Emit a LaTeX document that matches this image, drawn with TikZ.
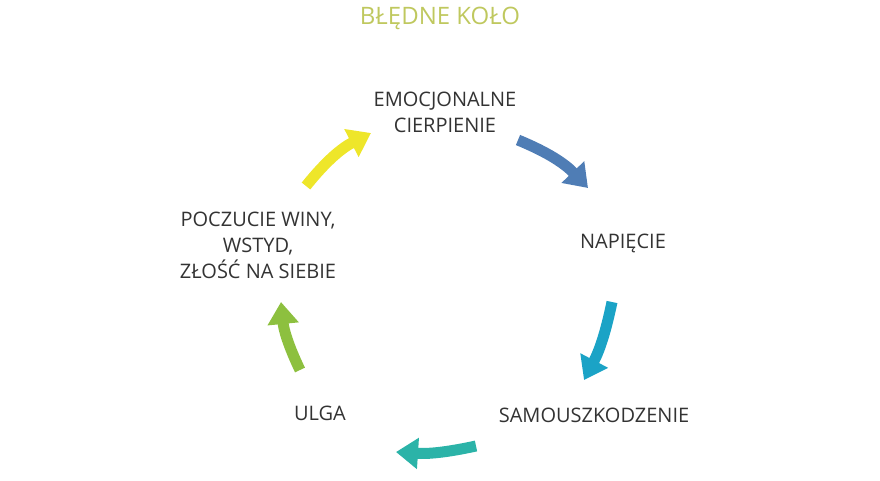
\documentclass[tikz,border=0pt]{standalone}
\usepackage{fontspec}
\setmainfont{Open Sans}
\usetikzlibrary{arrows.meta}
\definecolor{titlegreen}{HTML}{BFC85E}
\definecolor{arrblue}{HTML}{4F7DB5}
\definecolor{arrcyan}{HTML}{1BA3C6}
\definecolor{arrteal}{HTML}{2BB3A8}
\definecolor{arrgreen}{HTML}{8DC03F}
\definecolor{arryellow}{HTML}{EEE62A}
\tikzset{
    every picture/.style = {
        x = 1pt,
        y = -1pt
    },
    stage/.style = {
        align = center,
        font = \fontsize{20}{26}\selectfont,
        text = black!80
    },
    cyclearrow/.style = {
        line width = 11pt,
        -{Triangle[width = 30pt, length = 22pt]}
    }
}

\begin{document}
\begin{tikzpicture}
    \useasboundingbox (0,0) rectangle (880,480);
    \node[font = \fontsize{24}{26}\selectfont, text = titlegreen] (title) at (440,18) {BŁĘDNE KOŁO};

    \node[stage] (pain) at (445,112) {EMOCJONALNE\\CIERPIENIE};
    \node[stage] (tension) at (623,243) {NAPIĘCIE};
    \node[stage] (harm) at (594,415) {SAMOUSZKODZENIE};
    \node[stage] (relief) at (320,413) {ULGA};
    \node[stage] (guilt) at (258,245) {POCZUCIE WINY,\\WSTYD,\\ZŁOŚĆ NA SIEBIE};

    % arrow ends
    \coordinate (a1) at (518,140);
    \coordinate (b1) at (588,188);
    \coordinate (a2) at (612,302);
    \coordinate (b2) at (584,380);
    \coordinate (a3) at (476,446);
    \coordinate (b3) at (396,452);
    \coordinate (a4) at (300,370);
    \coordinate (b4) at (281,302);
    \coordinate (a5) at (306,186);
    \coordinate (b5) at (371,133);

    \draw[cyclearrow, arrblue] (a1) to[bend left = 12] (b1);
    \draw[cyclearrow, arrcyan] (a2) to[bend left = 8] (b2);
    \draw[cyclearrow, arrteal] (a3) to[bend left = 8] (b3);
    \draw[cyclearrow, arrgreen] (a4) to[bend left = 10] (b4);
    \draw[cyclearrow, arryellow] (a5) to[bend left = 12] (b5);
\end{tikzpicture}
\end{document}
